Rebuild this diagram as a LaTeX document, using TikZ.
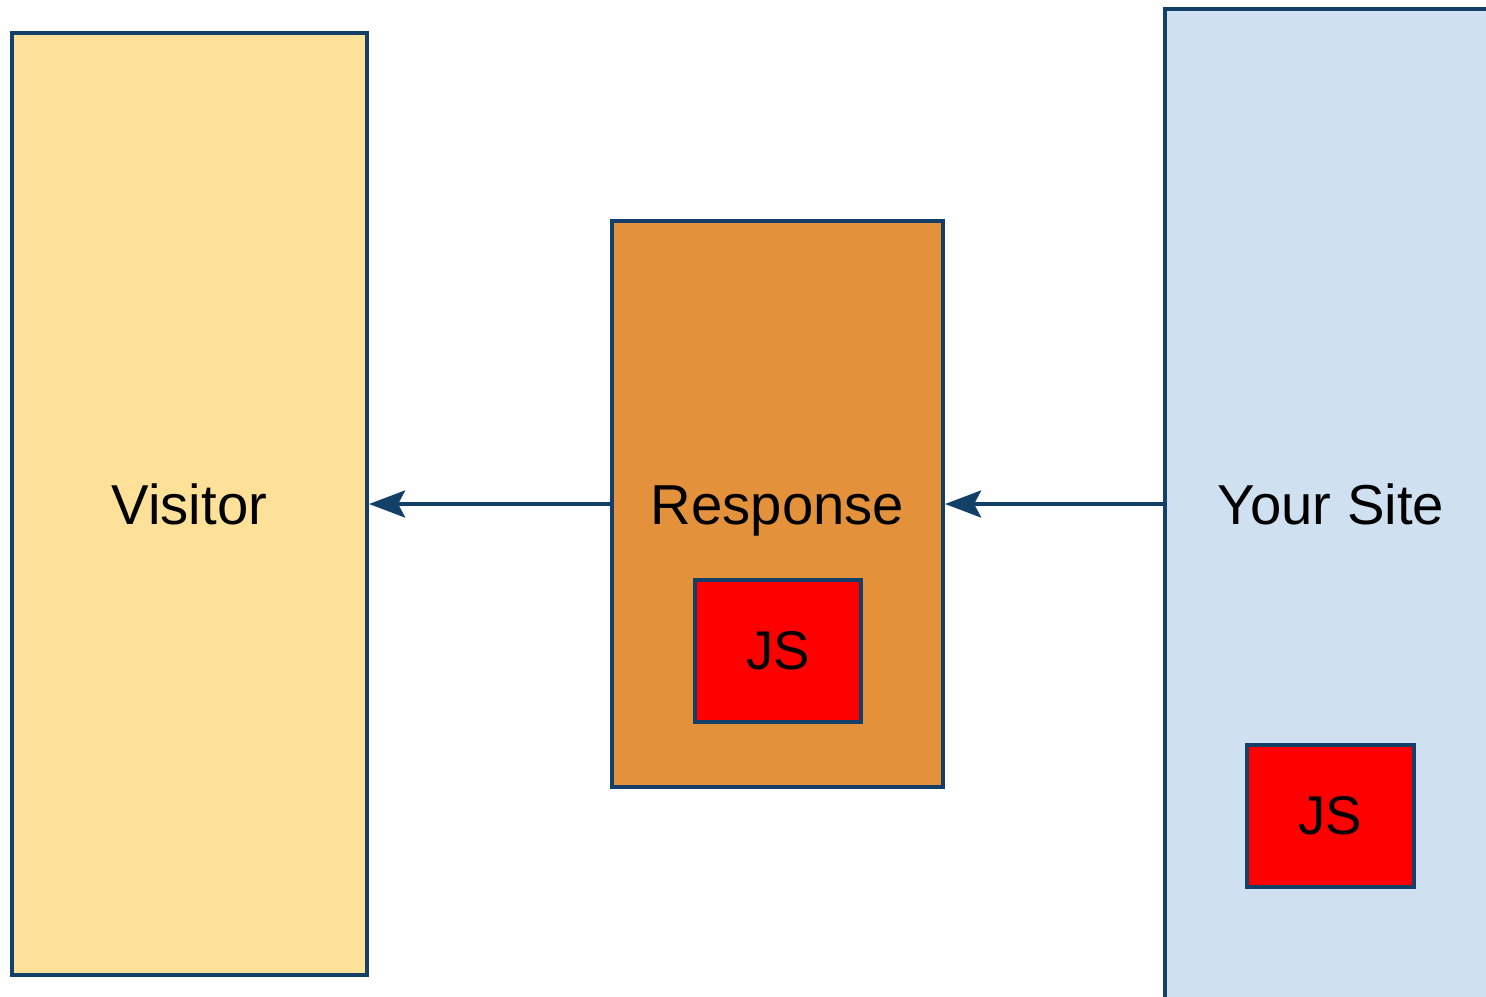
\documentclass[tikz,border=0pt]{standalone}
\usepackage{fontspec}
\setmainfont{Liberation Sans}
\usetikzlibrary{arrows.meta}
\usepackage{xcolor}

\definecolor{edgeblue}{HTML}{143F69}
\definecolor{visitorfill}{HTML}{FEE198}
\definecolor{responsefill}{HTML}{E4913B}
\definecolor{sitefill}{HTML}{CFE0F1}
\definecolor{jsred}{HTML}{FF0000}

\tikzset{
  box/.style={draw=edgeblue, line width=0.04cm, inner sep=0pt},
  boxlabel/.style={font=\fontsize{16}{19}\selectfont, text height=15pt, text depth=3.5pt, inner sep=0pt},
  jsbox/.style={box, fill=jsred, minimum width=1.66cm, minimum height=1.42cm, font=\fontsize{15.5}{18}\selectfont},
  flow/.style={draw=edgeblue, line width=0.035cm, -{Stealth[length=0.36cm, width=0.27cm, inset=0.07cm]}}
}

\begin{document}
\begin{tikzpicture}[x=0.01cm, y=0.01cm]
  \useasboundingbox (0,0) rectangle (1486,996);
  \clip (0,0) rectangle (1486,996);

  % the three parts
  \node[box, fill=visitorfill, minimum width=3.55cm, minimum height=9.42cm] (visitor) at (189.5,492) {};
  \node[box, fill=responsefill, minimum width=3.31cm, minimum height=5.66cm] (response) at (777.5,492) {};
  \node[box, fill=sitefill, minimum width=3.32cm, minimum height=9.90cm] (site) at (1331,492) {};
  \node[boxlabel] (visitorlabel) at (189.5,492) {Visitor};
  \node[boxlabel] (responselabel) at (777.5,492) {Response};
  \node[boxlabel] (sitelabel) at (1331,492) {Your Site};

  % script boxes
  \node[jsbox] (responsejs) at (778,345) {JS};
  \node[jsbox] (sitejs) at (1330.5,180) {JS};

  \draw[flow] (site.west) -- (response.east);
  \draw[flow] (response.west) -- (visitor.east);

\end{tikzpicture}
\end{document}
